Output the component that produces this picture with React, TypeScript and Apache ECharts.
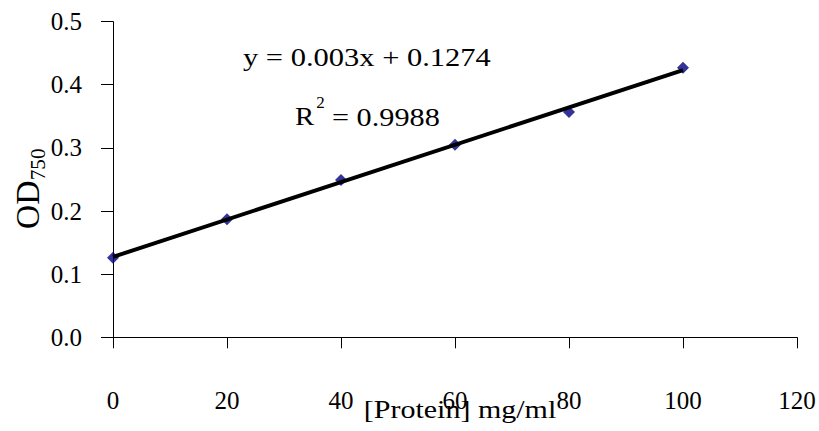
import React, { useEffect, useRef } from "react";
import * as echarts from "echarts";

const proteinConc = [0, 20, 40, 60, 80, 100];
const odValues = [0.126, 0.187, 0.249, 0.305, 0.357, 0.427];
const trendX = [0, 100];
const trendY = [0.1274, 0.4233];
const equationText = "y = 0.003x + 0.1274";
const r2Value = "= 0.9988";
const xAxisTitle = "[Protein] mg/ml";

const FONT = "Liberation Serif, Times New Roman, serif";

export default function App() {
  const ref = useRef<HTMLDivElement>(null);
  useEffect(() => {
    if (!ref.current) return;
    const chart = echarts.init(ref.current, undefined, { renderer: "svg" });
    const points = proteinConc.map((x, i) => [x, odValues[i]]);
    const trend = trendX.map((x, i) => [x, trendY[i]]);
    chart.setOption({
      animation: false,
      backgroundColor: "#fff",
      grid: { left: 113, right: 22, top: 21.6, bottom: 93.7, containLabel: false },
      xAxis: {
        type: "value",
        min: 0,
        max: 120,
        interval: 20,
        axisLine: { show: true, onZero: false, lineStyle: { color: "#000", width: 1 } },
        axisTick: { show: true, inside: false, length: 11, lineStyle: { color: "#000" } },
        axisLabel: { margin: 51, fontSize: 25, fontFamily: FONT, color: "#000" },
        splitLine: { show: false },
      },
      yAxis: {
        type: "value",
        min: 0,
        max: 0.5,
        interval: 0.1,
        axisLine: { show: true, lineStyle: { color: "#000", width: 1 } },
        axisTick: { show: true, inside: false, length: 12, lineStyle: { color: "#000" } },
        axisLabel: {
          margin: 31,
          fontSize: 25,
          fontFamily: FONT,
          color: "#000",
          formatter: (v: number) => v.toFixed(1),
        },
        splitLine: { show: false },
      },
      series: [
        {
          type: "scatter",
          data: points,
          symbol: "diamond",
          symbolSize: 12,
          itemStyle: { color: "#000080" },
          z: 2,
        },
        {
          type: "line",
          data: trend,
          symbol: "none",
          lineStyle: { color: "#000", width: 4 },
          z: 3,
        },
      ],
      graphic: [
        {
          type: "text",
          x: 243,
          y: 57,
          scaleX: 1.22,
          style: {
            text: equationText,
            fontSize: 25,
            fontFamily: FONT,
            fill: "#000",
            textAlign: "left",
            textVerticalAlign: "middle",
            verticalAlign: "middle",
          },
        },
        {
          type: "text",
          x: 295,
          y: 117,
          scaleX: 1.15,
          style: {
            text: "R",
            fontSize: 25,
            fontFamily: FONT,
            fill: "#000",
            textAlign: "left",
            textVerticalAlign: "middle",
            verticalAlign: "middle",
          },
        },
        {
          type: "text",
          x: 320.5,
          y: 102,
          style: {
            text: "2",
            fontSize: 17,
            fontFamily: FONT,
            fill: "#000",
            textAlign: "center",
            textVerticalAlign: "middle",
            verticalAlign: "middle",
          },
        },
        {
          type: "text",
          x: 332,
          y: 117,
          scaleX: 1.21,
          style: {
            text: r2Value,
            fontSize: 25,
            fontFamily: FONT,
            fill: "#000",
            textAlign: "left",
            textVerticalAlign: "middle",
            verticalAlign: "middle",
          },
        },
        {
          type: "text",
          x: 460,
          y: 409,
          scaleX: 1.2,
          style: {
            text: xAxisTitle,
            fontSize: 25,
            fontFamily: FONT,
            fill: "#000",
            textAlign: "center",
            textVerticalAlign: "middle",
            verticalAlign: "middle",
          },
        },
        {
          type: "group",
          x: 27,
          y: 229,
          rotation: Math.PI / 2,
          scaleX: 1.12,
          scaleY: 1.12,
          children: [
            {
              type: "text",
              x: 0,
              y: 0,
              style: {
                text: "OD",
                fontSize: 30,
                fontFamily: FONT,
                fill: "#000",
                textAlign: "left",
                textVerticalAlign: "middle",
                verticalAlign: "middle",
              },
            },
            {
              type: "text",
              x: 43.5,
              y: 10,
              style: {
                text: "750",
                fontSize: 19,
                fontFamily: FONT,
                fill: "#000",
                textAlign: "left",
                textVerticalAlign: "middle",
                verticalAlign: "middle",
              },
            },
          ],
        },
      ],
    });
    return () => chart.dispose();
  }, []);
  return (
    <div
      ref={ref}
      style={{ position: "absolute", left: 0, top: 0, width: 819, height: 431 }}
    />
  );
}
